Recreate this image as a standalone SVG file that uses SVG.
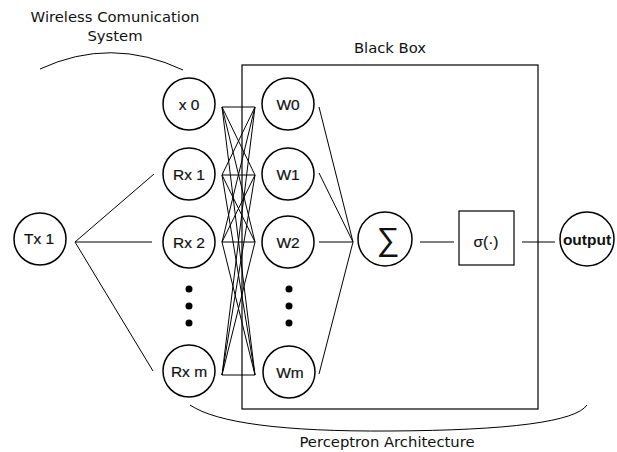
<svg xmlns="http://www.w3.org/2000/svg" width="617" height="452" viewBox="0 0 617 452">
  <style>
    .node { fill: #fff; stroke: #000; stroke-width: 1.5; }
    .lbl { font-family: "Liberation Sans", Arial, sans-serif; font-size: 15.5px; fill: #111; stroke: #111; stroke-width: 0.2; text-anchor: middle; }
    .cap { font-family: "DejaVu Sans", "Liberation Sans", sans-serif; font-size: 14.8px; fill: #111; text-anchor: middle; }
    .wire { stroke: #000; stroke-width: 1; fill: none; }
    .dot { fill: #000; }
  </style>

  <!-- captions and braces -->
  <text class="cap" x="115" y="22">Wireless Comunication</text>
  <text class="cap" x="115" y="41">System</text>
  <path class="wire" d="M40 69 Q111 36 183 70"/>
  <text class="cap" x="390" y="53">Black Box</text>
  <path class="wire" d="M190 405 Q230 432 390 431 Q570 430 587 405"/>
  <text class="cap" x="387" y="447">Perceptron Architecture</text>

  <!-- black box frame -->
  <rect x="242" y="65" width="296" height="344" fill="none" stroke="#000" stroke-width="1.2"/>

  <g id="connectors" class="wire">
    <!-- transmitter fan-out -->
    <line x1="75" y1="242" x2="154" y2="174"/>
    <line x1="75" y1="242" x2="152" y2="242"/>
    <line x1="75" y1="242" x2="153" y2="371"/>
    <!-- full mesh between receive and weight columns -->
    <line x1="222" y1="107" x2="255" y2="107"/>
    <line x1="222" y1="107" x2="255" y2="175"/>
    <line x1="222" y1="107" x2="255" y2="242"/>
    <line x1="222" y1="107" x2="255" y2="375"/>
    <line x1="222" y1="175" x2="255" y2="107"/>
    <line x1="222" y1="175" x2="255" y2="175"/>
    <line x1="222" y1="175" x2="255" y2="242"/>
    <line x1="222" y1="175" x2="255" y2="375"/>
    <line x1="222" y1="242" x2="255" y2="107"/>
    <line x1="222" y1="242" x2="255" y2="175"/>
    <line x1="222" y1="242" x2="255" y2="242"/>
    <line x1="222" y1="242" x2="255" y2="375"/>
    <line x1="222" y1="375" x2="255" y2="107"/>
    <line x1="222" y1="375" x2="255" y2="175"/>
    <line x1="222" y1="375" x2="255" y2="242"/>
    <line x1="222" y1="375" x2="255" y2="375"/>
    <!-- weights into summation -->
    <line x1="319" y1="107" x2="353" y2="242"/>
    <line x1="319" y1="173" x2="353" y2="242"/>
    <line x1="319" y1="242" x2="353" y2="242"/>
    <line x1="319" y1="374" x2="353" y2="242"/>
    <!-- summation to activation to output -->
    <line x1="420" y1="242" x2="454" y2="242"/>
    <line x1="522" y1="242" x2="555" y2="242"/>
  </g>

  <g id="tx1"><circle class="node" cx="40" cy="239" r="26"/><text class="lbl" x="39" y="244">Tx 1</text></g>

  <g id="x0"><circle class="node" cx="189" cy="104" r="26"/><text class="lbl" x="189" y="110">x 0</text></g>
  <g id="rx1"><circle class="node" cx="189" cy="174" r="26"/><text class="lbl" x="189" y="180">Rx 1</text></g>
  <g id="rx2"><circle class="node" cx="189" cy="242" r="26"/><text class="lbl" x="189" y="248">Rx 2</text></g>
  <g id="rx-dots"><circle class="dot" cx="189" cy="289" r="3.5"/><circle class="dot" cx="189" cy="306" r="3.5"/><circle class="dot" cx="189" cy="323" r="3.5"/></g>
  <g id="rxm"><circle class="node" cx="189" cy="371" r="26"/><text class="lbl" x="189" y="377">Rx m</text></g>

  <g id="w0"><circle class="node" cx="288" cy="104" r="26"/><text class="lbl" x="288" y="110">W0</text></g>
  <g id="w1"><circle class="node" cx="288" cy="174" r="26"/><text class="lbl" x="288" y="180">W1</text></g>
  <g id="w2"><circle class="node" cx="288" cy="242" r="26"/><text class="lbl" x="288" y="248">W2</text></g>
  <g id="w-dots"><circle class="dot" cx="289" cy="289" r="3.5"/><circle class="dot" cx="289" cy="306" r="3.5"/><circle class="dot" cx="289" cy="323" r="3.5"/></g>
  <g id="wm"><circle class="node" cx="289" cy="372" r="26"/><text class="lbl" x="290" y="378">Wm</text></g>

  <g id="sum"><circle class="node" cx="385" cy="239" r="27"/><text x="388" y="250" style="font-family:'Liberation Sans',sans-serif;font-size:32px;text-anchor:middle;fill:#111">∑</text></g>
  <g id="sigma"><rect x="459" y="211" width="55" height="54" fill="#fff" stroke="#000" stroke-width="1.2"/><text class="lbl" x="486" y="247">σ(·)</text></g>
  <g id="output"><circle class="node" cx="587" cy="239" r="27"/><text class="lbl" x="587" y="245" style="font-weight:bold;stroke-width:0">output</text></g>
</svg>
